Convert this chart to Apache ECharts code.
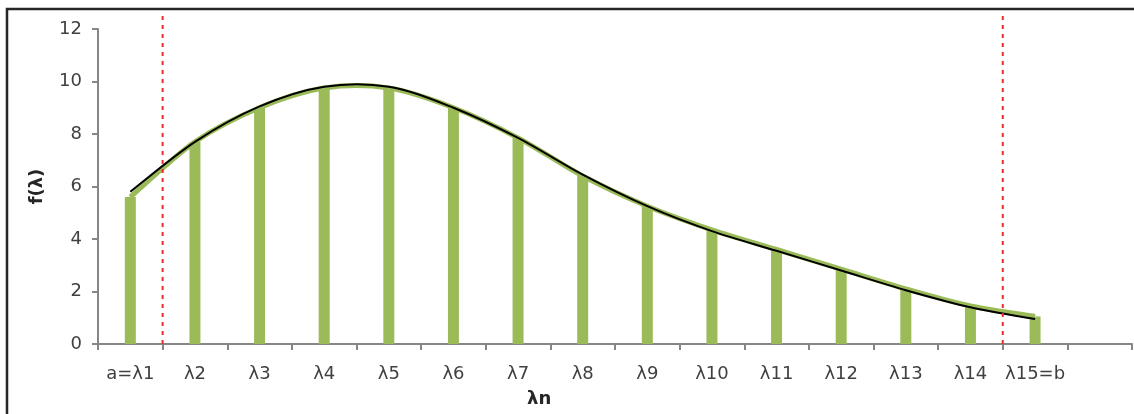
<!DOCTYPE html>
<html>
<head>
<meta charset="utf-8">
<title>f(λ)</title>
<script src="https://cdn.jsdelivr.net/npm/echarts@6/dist/echarts.min.js"></script>
<style>
  html, body { margin: 0; padding: 0; background: #fff; }
  #chart { width: 1134px; height: 414px; }
</style>
</head>
<body>
<div id="chart"></div>
<script>
// categories (the last slot is left empty, as in the original)
var categories = ['a=λ1', 'λ2', 'λ3', 'λ4', 'λ5', 'λ6', 'λ7', 'λ8', 'λ9', 'λ10', 'λ11', 'λ12', 'λ13', 'λ14', 'λ15=b', '']
// bar heights f(λn)
var barValues = [5.6, 7.7, 9.0, 9.75, 9.75, 9.0, 7.85, 6.4, 5.25, 4.35, 3.6, 2.85, 2.1, 1.45, 1.05, null]
// black smooth curve
var curveValues = [5.8, 7.7, 9.05, 9.8, 9.8, 9.0, 7.85, 6.45, 5.25, 4.3, 3.55, 2.8, 2.05, 1.4, 0.95]
// red dashed bounds, positions on the category boundaries
var boundA = [[1, 0], [1, 12.6]]
var boundB = [[14, 0], [14, 12.6]]

var chart = echarts.init(document.getElementById('chart'))

var green = '#9bbb59'
var axisGray = '#868686'
var textColor = '#404040'
var font = 'DejaVu Sans'

// excel-like smoothed line: bezier through the points, control = P ± (Pnext - Pprev) / 6
function smoothSeries (name, values, color, width, z) {
  return {
    name: name,
    type: 'custom',
    z: z,
    data: values.map(function (v, i) { return [i, v] }),
    renderItem: function (params, api) {
      if (params.dataIndex !== 0) return null
      var pts = values.map(function (v, i) { return api.coord([i, v]) })
      var d = 'M' + pts[0][0] + ' ' + pts[0][1]
      for (var i = 0; i < pts.length - 1; i++) {
        var p0 = pts[i - 1] || pts[i]
        var p1 = pts[i]
        var p2 = pts[i + 1]
        var p3 = pts[i + 2] || p2
        var c1x = p1[0] + (p2[0] - p0[0]) / 6
        var c1y = p1[1] + (p2[1] - p0[1]) / 6
        var c2x = p2[0] - (p3[0] - p1[0]) / 6
        var c2y = p2[1] - (p3[1] - p1[1]) / 6
        d += ' C' + c1x + ' ' + c1y + ' ' + c2x + ' ' + c2y + ' ' + p2[0] + ' ' + p2[1]
      }
      return {
        type: 'path',
        shape: { pathData: d },
        style: { fill: 'none', stroke: color, lineWidth: width, lineCap: 'butt', lineJoin: 'round' }
      }
    }
  }
}

var option = {
  animation: false,
  textStyle: { fontFamily: font },
  grid: { left: 98, right: 2, top: 29, bottom: 70 },
  graphic: [
    {
      type: 'rect',
      shape: { x: 7, y: 9, width: 1140, height: 420 },
      style: { fill: 'none', stroke: '#262626', lineWidth: 2.5 },
      silent: true
    },
    {
      type: 'text',
      left: 527,
      top: 390,
      style: { text: 'λn', font: 'bold 18px "DejaVu Sans"', fill: '#262626' }
    }
  ],
  xAxis: [
    {
      type: 'category',
      data: categories,
      boundaryGap: true,
      axisLine: { lineStyle: { color: axisGray, width: 2 } },
      axisTick: { show: true, length: 6, alignWithLabel: false, lineStyle: { color: axisGray, width: 2 } },
      axisLabel: { color: textColor, fontSize: 18, fontFamily: font, margin: 21, interval: 0 },
      splitLine: { show: false }
    },
    {
      type: 'value',
      min: 0,
      max: 16,
      show: false
    }
  ],
  yAxis: {
    type: 'value',
    min: 0,
    max: 12,
    interval: 2,
    name: 'f(λ)',
    nameLocation: 'middle',
    nameRotate: 90,
    nameGap: 52,
    nameTextStyle: { color: '#262626', fontSize: 18, fontWeight: 'bold', fontFamily: font },
    axisLine: { show: true, lineStyle: { color: axisGray, width: 2 } },
    axisTick: { show: true, length: 6, lineStyle: { color: axisGray, width: 2 } },
    axisLabel: { color: textColor, fontSize: 18, fontFamily: font, margin: 16 },
    splitLine: { show: false }
  },
  series: [
    {
      name: 'f',
      type: 'bar',
      barWidth: 11,
      itemStyle: { color: green },
      data: barValues,
      z: 2
    },
    smoothSeries('fit', barValues.slice(0, 15), green, 5, 3),
    smoothSeries('curve', curveValues, '#000', 2, 4),
    {
      name: 'a',
      type: 'line',
      xAxisIndex: 1,
      symbol: 'none',
      clip: false,
      lineStyle: { color: '#ee2a2a', width: 2, type: [4, 5] },
      data: boundA,
      z: 5
    },
    {
      name: 'b',
      type: 'line',
      xAxisIndex: 1,
      symbol: 'none',
      clip: false,
      lineStyle: { color: '#ee2a2a', width: 2, type: [4, 5] },
      data: boundB,
      z: 5
    }
  ]
}

chart.setOption(option)
</script>
</body>
</html>
